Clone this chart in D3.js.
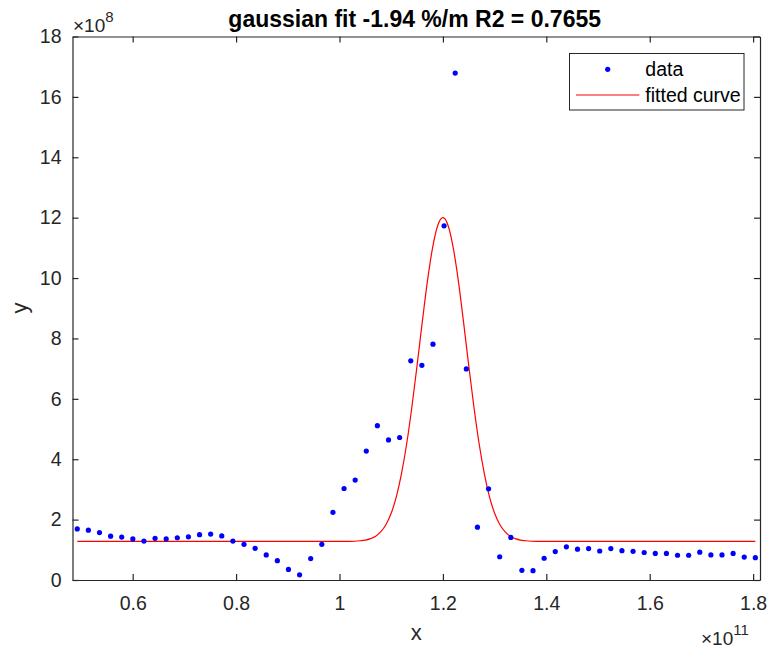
<!DOCTYPE html>
<html>
<head>
<meta charset="utf-8">
<script src="https://cdn.jsdelivr.net/npm/d3@7"></script>
<style>
  body { margin: 0; background: #fff; }
  text { font-family: "Liberation Sans", Arial, Helvetica, sans-serif; fill: #262626; }
</style>
</head>
<body>
<div id="chart"></div>
<script>
// x in units of 1e11, y in units of 1e8
const dataX = [0.4928, 0.5143, 0.5358, 0.5573, 0.5788, 0.6003, 0.6218, 0.6433, 0.6648, 0.6863,
  0.7078, 0.7293, 0.7508, 0.7723, 0.7938, 0.8153, 0.8368, 0.8583, 0.8798, 0.9013,
  0.9228, 0.9443, 0.9658, 0.9873, 1.0088, 1.0303, 1.0518, 1.0733, 1.0948, 1.1163,
  1.1378, 1.1593, 1.1808, 1.2023, 1.2238, 1.2453, 1.2668, 1.2883, 1.3098, 1.3313,
  1.3528, 1.3743, 1.3958, 1.4173, 1.4388, 1.4603, 1.4818, 1.5033, 1.5248, 1.5463,
  1.5678, 1.5893, 1.6108, 1.6323, 1.6538, 1.6753, 1.6968, 1.7183, 1.7398, 1.7613,
  1.7828, 1.8043];
const dataY = [1.69, 1.65, 1.57, 1.45, 1.42, 1.36, 1.29, 1.38, 1.36, 1.40,
  1.43, 1.50, 1.52, 1.46, 1.29, 1.18, 1.05, 0.83, 0.64, 0.35,
  0.17, 0.71, 1.18, 2.24, 3.03, 3.31, 4.27, 5.11, 4.64, 4.72,
  7.26, 7.11, 7.81, 11.73, 16.79, 6.99, 1.75, 3.02, 0.77, 1.41,
  0.32, 0.31, 0.72, 0.94, 1.10, 1.02, 1.04, 0.96, 1.04, 0.97,
  0.95, 0.91, 0.88, 0.88, 0.82, 0.82, 0.92, 0.83, 0.83, 0.88,
  0.76, 0.74];

// fitted curve
const fitX = [0.4928, 1.00, 1.02, 1.04, 1.05, 1.06, 1.07, 1.08, 1.09, 1.10, 1.11, 1.12, 1.13,
  1.14, 1.15, 1.16, 1.17, 1.18, 1.19, 1.20, 1.21, 1.22, 1.23, 1.24, 1.25, 1.26, 1.27,
  1.28, 1.29, 1.30, 1.31, 1.32, 1.33, 1.34, 1.35, 1.36, 1.38, 1.40, 1.8043];
const fitY = [1.28, 1.28, 1.28, 1.30, 1.32, 1.37, 1.45, 1.60, 1.84, 2.21, 2.76, 3.53, 4.52,
  5.73, 7.10, 8.53, 9.89, 11.00, 11.74, 12.00, 11.74, 11.00, 9.89, 8.53, 7.10, 5.73, 4.52,
  3.53, 2.76, 2.21, 1.84, 1.60, 1.45, 1.37, 1.32, 1.30, 1.28, 1.28, 1.28];

const xTicks = [0.6, 0.8, 1, 1.2, 1.4, 1.6, 1.8];
const yTicks = [0, 2, 4, 6, 8, 10, 12, 14, 16, 18];

const width = 774, height = 649;
const margin = { left: 72.5, right: 760, top: 36.5, bottom: 580 };

const svg = d3.select("#chart").append("svg")
  .attr("width", width)
  .attr("height", height);

const x = d3.scaleLinear().domain([0.4836, 1.8133]).range([margin.left, margin.right]);
const y = d3.scaleLinear().domain([0, 18]).range([margin.bottom, margin.top]);

// axes
const axisColor = "#262626";
function styleAxis(g) {
  g.selectAll("path, line").attr("stroke", axisColor).attr("stroke-width", 1.2);
  g.selectAll("text").attr("fill", axisColor).style("font-size", "19.5px");
}

svg.append("g")
  .attr("transform", `translate(0,${margin.bottom})`)
  .call(d3.axisBottom(x).tickValues(xTicks).tickSizeInner(-6).tickSizeOuter(0)
    .tickPadding(16.5).tickFormat(d => d3.format("")(d)))
  .call(styleAxis);

svg.append("g")
  .attr("transform", `translate(${margin.left},0)`)
  .call(d3.axisLeft(y).tickValues(yTicks).tickSizeInner(-6).tickSizeOuter(0)
    .tickPadding(11))
  .call(styleAxis);

svg.append("g")
  .attr("transform", `translate(0,${margin.top})`)
  .call(d3.axisTop(x).tickValues(xTicks).tickSizeInner(-6).tickSizeOuter(0).tickFormat(""))
  .call(styleAxis);

svg.append("g")
  .attr("transform", `translate(${margin.right},0)`)
  .call(d3.axisRight(y).tickValues(yTicks).tickSizeInner(-6).tickSizeOuter(0).tickFormat(""))
  .call(styleAxis);

// fitted curve
const line = d3.line()
  .x((d, i) => x(fitX[i]))
  .y(d => y(d))
  .curve(d3.curveMonotoneX);

svg.append("path")
  .datum(fitY)
  .attr("fill", "none")
  .attr("stroke", "#ff0000")
  .attr("stroke-width", 1.2)
  .attr("d", line);

// data points
svg.selectAll(".dot")
  .data(dataY)
  .enter()
  .append("circle")
  .attr("class", "dot")
  .attr("cx", (d, i) => x(dataX[i]))
  .attr("cy", d => y(d))
  .attr("r", 2.6)
  .attr("fill", "#0000ff");

// title and labels
svg.append("text")
  .attr("x", 414.7)
  .attr("y", 26.7)
  .attr("text-anchor", "middle")
  .style("font-size", "23px")
  .style("font-weight", "bold")
  .style("fill", "#000")
  .text("gaussian fit -1.94 %/m R2 = 0.7655");

svg.append("text")
  .attr("x", (margin.left + margin.right) / 2)
  .attr("y", 640)
  .attr("text-anchor", "middle")
  .style("font-size", "22px")
  .text("x");

svg.append("text")
  .attr("transform", "translate(27,308) rotate(-90)")
  .attr("text-anchor", "middle")
  .style("font-size", "22px")
  .text("y");

// exponent labels
const yExp = svg.append("text").attr("x", 73).attr("y", 32.3).style("font-size", "19px");
yExp.append("tspan").text("\u00d710");
yExp.append("tspan").attr("dy", -10).style("font-size", "15px").text("8");

const xExp = svg.append("text").attr("x", 701).attr("y", 645).style("font-size", "19px");
xExp.append("tspan").text("\u00d710");
xExp.append("tspan").attr("dy", -10).style("font-size", "15px").text("11");

// legend
const legend = svg.append("g");
legend.append("rect")
  .attr("x", 569.5).attr("y", 53.5)
  .attr("width", 174.5).attr("height", 56.5)
  .attr("fill", "#fff")
  .attr("stroke", axisColor)
  .attr("stroke-width", 1);

legend.append("circle")
  .attr("cx", 607.7).attr("cy", 69.3).attr("r", 2.6)
  .attr("fill", "#0000ff");
legend.append("text")
  .attr("x", 645.3).attr("y", 76)
  .style("font-size", "19.5px")
  .style("fill", "#000")
  .text("data");

legend.append("line")
  .attr("x1", 576).attr("x2", 639.3)
  .attr("y1", 95).attr("y2", 95)
  .attr("stroke", "#ff0000").attr("stroke-width", 1.2);
legend.append("text")
  .attr("x", 645.3).attr("y", 101.7)
  .style("font-size", "19.5px")
  .style("fill", "#000")
  .text("fitted curve");
</script>
</body>
</html>
